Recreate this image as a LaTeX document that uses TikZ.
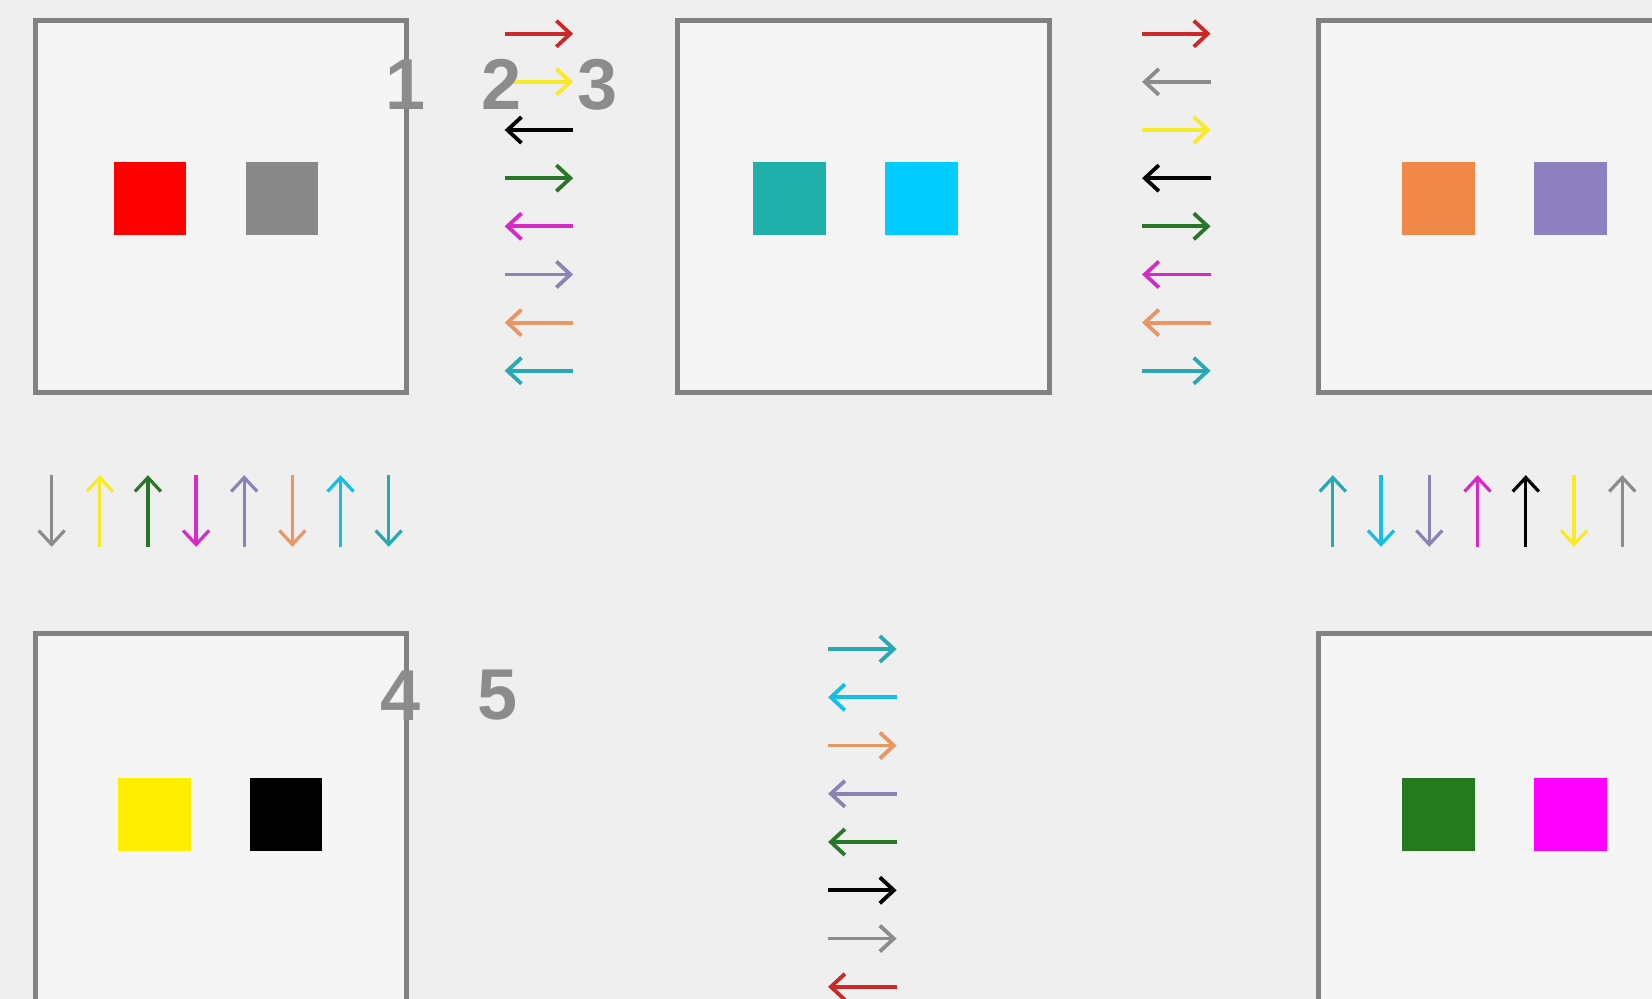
\documentclass[tikz,border=0pt]{standalone}
\usepackage{fontspec}
\setmainfont{Liberation Sans}
\usetikzlibrary{arrows.meta}
\definecolor{bgc}{RGB}{239,239,239}
\definecolor{panelbg}{RGB}{245,245,245}
\definecolor{boxgray}{RGB}{130,130,130}
\definecolor{digitgray}{RGB}{140,140,140}
\definecolor{sqred}{RGB}{255,0,0}
\definecolor{sqgray}{RGB}{136,136,136}
\definecolor{sqteal}{RGB}{32,176,170}
\definecolor{sqcyan}{RGB}{0,204,255}
\definecolor{sqorange}{RGB}{240,136,72}
\definecolor{sqpurple}{RGB}{140,128,190}
\definecolor{sqyellow}{RGB}{255,238,0}
\definecolor{sqgreen}{RGB}{38,122,30}
\definecolor{sqmagenta}{RGB}{255,0,255}
\definecolor{ared}{RGB}{204,40,40}
\definecolor{ayellow}{RGB}{248,234,40}
\definecolor{ablack}{RGB}{0,0,0}
\definecolor{agreen}{RGB}{40,118,40}
\definecolor{amagenta}{RGB}{215,40,200}
\definecolor{apurple}{RGB}{140,130,180}
\definecolor{aorange}{RGB}{232,150,100}
\definecolor{ateal}{RGB}{40,168,178}
\definecolor{acyan}{RGB}{20,190,230}
\definecolor{agray}{RGB}{140,140,140}
\begin{document}
\begin{tikzpicture}[x=0.52679pt,y=-0.52679pt,
  panel/.style={draw=boxgray, line width=2.5pt, fill=panelbg, minimum width=185.7pt, minimum height=185.7pt, inner sep=0pt, anchor=north west},
  swatch/.style={minimum size=36.3pt, inner sep=0pt, draw=none},
  digit/.style={text=digitgray, font=\fontsize{36}{36}\selectfont\bfseries, inner sep=0pt},
  fwd/.style={line width=1.9pt, -{Straight Barb[length=7pt,width=13pt,line width=1.9pt]}},
  bwd/.style={line width=1.9pt, {Straight Barb[length=7pt,width=13pt,line width=1.9pt]}-},
  vfwd/.style={line width=1.6pt, -{Straight Barb[length=7pt,width=13pt,line width=1.6pt]}},
  vbwd/.style={line width=1.6pt, {Straight Barb[length=7pt,width=13pt,line width=1.6pt]}-}]
\useasboundingbox (0,0) rectangle (1568,948);
\clip (0,0) rectangle (1568,948);
\fill[bgc] (0,0) rectangle (1568,948);

% panels
\node[panel] (p1) at (31,17.5) {};
\node[panel] (p2) at (641,17.5) {};
\node[panel] (p3) at (1249,17.5) {};
\node[panel] (p4) at (31,598.5) {};
\node[panel] (p6) at (1249,598.5) {};

% swatches
\node[swatch, fill=sqred] (s1a) at (142.5,188.5) {};
\node[swatch, fill=sqgray] (s1b) at (267.5,188.5) {};
\node[swatch, fill=sqteal] (s2a) at (749.5,188.5) {};
\node[swatch, fill=sqcyan] (s2b) at (874.5,188.5) {};
\node[swatch, fill=sqorange] (s3a) at (1365.5,188.5) {};
\node[swatch, fill=sqpurple] (s3b) at (1490.5,188.5) {};
\node[swatch, fill=sqyellow] (s4a) at (146.5,773) {};
\node[swatch, fill=black] (s4b) at (271.5,773) {};
\node[swatch, fill=sqgreen] (s6a) at (1365.5,773) {};
\node[swatch, fill=sqmagenta] (s6b) at (1490.5,773) {};

% horizontal arrows, column 1
\foreach \c/\d [count=\i from 0] in {ared/fwd,ayellow/fwd,ablack/bwd,agreen/fwd,amagenta/bwd,apurple/fwd,aorange/bwd,ateal/bwd}{
  \coordinate (ha\i) at (479,32+45.7*\i);
  \coordinate (hb\i) at (544,32+45.7*\i);
  \draw[\c,\d] (ha\i) -- (hb\i);
}
% horizontal arrows, column 2
\foreach \c/\d [count=\i from 0] in {ared/fwd,agray/bwd,ayellow/fwd,ablack/bwd,agreen/fwd,amagenta/bwd,aorange/bwd,ateal/fwd}{
  \coordinate (hc\i) at (1084,32+45.7*\i);
  \coordinate (hd\i) at (1149,32+45.7*\i);
  \draw[\c,\d] (hc\i) -- (hd\i);
}
% horizontal arrows, column 3
\foreach \c/\d [count=\i from 0] in {ateal/fwd,acyan/bwd,aorange/fwd,apurple/bwd,agreen/bwd,ablack/fwd,agray/fwd,ared/bwd}{
  \coordinate (he\i) at (786,616+45.8*\i);
  \coordinate (hf\i) at (851,616+45.8*\i);
  \draw[\c,\d] (he\i) -- (hf\i);
}
% vertical arrows, left row
\foreach \c/\d [count=\i from 0] in {agray/vfwd,ayellow/vbwd,agreen/vbwd,amagenta/vfwd,apurple/vbwd,aorange/vfwd,acyan/vbwd,ateal/vfwd}{
  \coordinate (va\i) at (49+45.7*\i,451);
  \coordinate (vb\i) at (49+45.7*\i,519);
  \draw[\c,\d] (va\i) -- (vb\i);
}
% vertical arrows, right row
\foreach \c/\d [count=\i from 0] in {ateal/vbwd,acyan/vfwd,apurple/vfwd,amagenta/vbwd,ablack/vbwd,ayellow/vfwd,agray/vbwd}{
  \coordinate (vc\i) at (1265+45.8*\i,451);
  \coordinate (vd\i) at (1265+45.8*\i,519);
  \draw[\c,\d] (vc\i) -- (vd\i);
}

% digits
\node[digit] (d1) at (385,80) {1};
\node[digit] (d2) at (476,80) {2};
\node[digit] (d3) at (567,80) {3};
\node[digit] (d4) at (380,660) {4};
\node[digit] (d5) at (472,660) {5};
\end{tikzpicture}
\end{document}
